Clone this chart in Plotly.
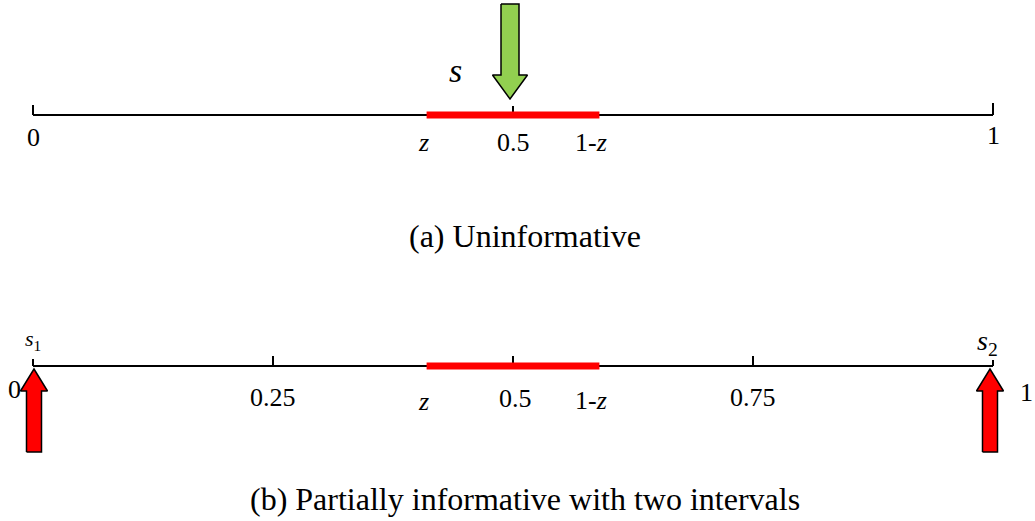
import plotly.graph_objects as go

# ---- data ----
z = 0.41
top_ticks = [0, 0.5, 1]
top_tick_labels = ["0", "0.5", "1"]
bottom_ticks = [0, 0.25, 0.5, 0.75, 1]
bottom_tick_labels = ["0", "0.25", "0.5", "0.75", "1"]
interval_labels = ["<i>z</i>", "1-<i>z</i>"]
signal_top = [0.5]
signal_top_labels = ["<i>s</i>"]
signal_bottom = [0, 1]
signal_bottom_labels = ["<i>s</i><sub>1</sub>", "<i>s</i><sub>2</sub>"]
captions = ["(a) Uninformative", "(b) Partially informative with two intervals"]

# ---- layout helpers ----
W, H = 1035, 521
X0, X1 = 33, 993            # pixel positions of 0 and 1
PX = 1.0 / (X1 - X0)        # one pixel in data units
FONT = "Liberation Serif, Times New Roman, serif"

def dx(p):
    return p * PX

fig = go.Figure()

def line(xs, ys, color="black", width=2):
    fig.add_trace(go.Scatter(x=xs, y=ys, mode="lines",
                             line=dict(color=color, width=width),
                             hoverinfo="skip", showlegend=False))

def poly(xs, ys, fill):
    fig.add_trace(go.Scatter(x=xs + [xs[0]], y=ys + [ys[0]], mode="lines",
                             fill="toself", fillcolor=fill,
                             line=dict(color="black", width=1.5),
                             hoverinfo="skip", showlegend=False))

def text(x, y, s, size, xref="x", xanchor="center"):
    fig.add_annotation(x=x, y=y, xref=xref, yref="y", text=s, showarrow=False,
                       xanchor=xanchor, yanchor="middle",
                       font=dict(family=FONT, size=size, color="black"))

# ---- panel (a) ----
YA = 115
line([0, 1], [YA, YA])
tick_top_len = {0: 10, 0.5: 9, 1: 12}
for t in top_ticks:
    line([t, t], [YA, YA - tick_top_len[t]])
line([z, 1 - z], [YA, YA], color="#FF0000", width=7)

top_label_y = {0: 137, 0.5: 142, 1: 135}
for t, lab in zip(top_ticks, top_tick_labels):
    text(t, top_label_y[t], lab, 26)
text(z - dx(3), 142, interval_labels[0], 26)
text(1 - z - dx(8), 142, interval_labels[1], 26)

# green arrow pointing down at s
for s in signal_top:
    c = s - dx(3)
    xs = [c - dx(9), c + dx(9), c + dx(9), c + dx(17.5), c, c - dx(17.5), c - dx(9)]
    ys = [4, 4, 75, 75, 99, 75, 75]
    poly(xs, ys, "#92D050")
    text(s - dx(58), 70, signal_top_labels[0], 34)

text(525 / W, 236, captions[0], 32, xref="paper")

# ---- panel (b) ----
YB = 366
line([0, 1], [YB, YB])
tick_bot_len = {0: 7, 0.25: 10, 0.5: 10, 0.75: 10, 1: 6}
for t in bottom_ticks:
    line([t, t], [YB, YB - tick_bot_len[t]])
line([z, 1 - z], [YB, YB], color="#FF0000", width=7)

bot_label_pos = {0: (-dx(19), 389), 0.25: (0, 397), 0.5: (dx(2), 398),
                 0.75: (0, 397), 1: (dx(33), 392)}
for t, lab in zip(bottom_ticks, bottom_tick_labels):
    off, yy = bot_label_pos[t]
    text(t + off, yy, lab, 26)
text(z - dx(3), 401, interval_labels[0], 26)
text(1 - z - dx(8), 400, interval_labels[1], 26)

# red arrows pointing up at s1, s2
for s, lab, fs, ly in zip(signal_bottom, signal_bottom_labels, [22, 28], [340, 342]):
    c = s + (dx(1) if s == 0 else -dx(3))
    xs = [c - dx(7.5), c - dx(7.5), c - dx(13.5), c, c + dx(13.5), c + dx(7.5), c + dx(7.5)]
    ys = [452, 391, 391, 369, 391, 391, 452]
    poly(xs, ys, "#FF0000")
    text(s + (dx(0) if s == 0 else -dx(6)), ly, lab, fs)

text(525 / W, 499, captions[1], 32, xref="paper")

fig.update_layout(
    width=W, height=H,
    margin=dict(l=0, r=0, t=0, b=0),
    paper_bgcolor="white", plot_bgcolor="white",
    showlegend=False,
    xaxis=dict(range=[-X0 * PX, (W - X0) * PX], visible=False, fixedrange=True),
    yaxis=dict(range=[H, 0], visible=False, fixedrange=True),
)

fig.write_html("out.html", config={"displayModeBar": False},
               post_script="document.body.style.margin='0';document.body.style.overflow='hidden';")
